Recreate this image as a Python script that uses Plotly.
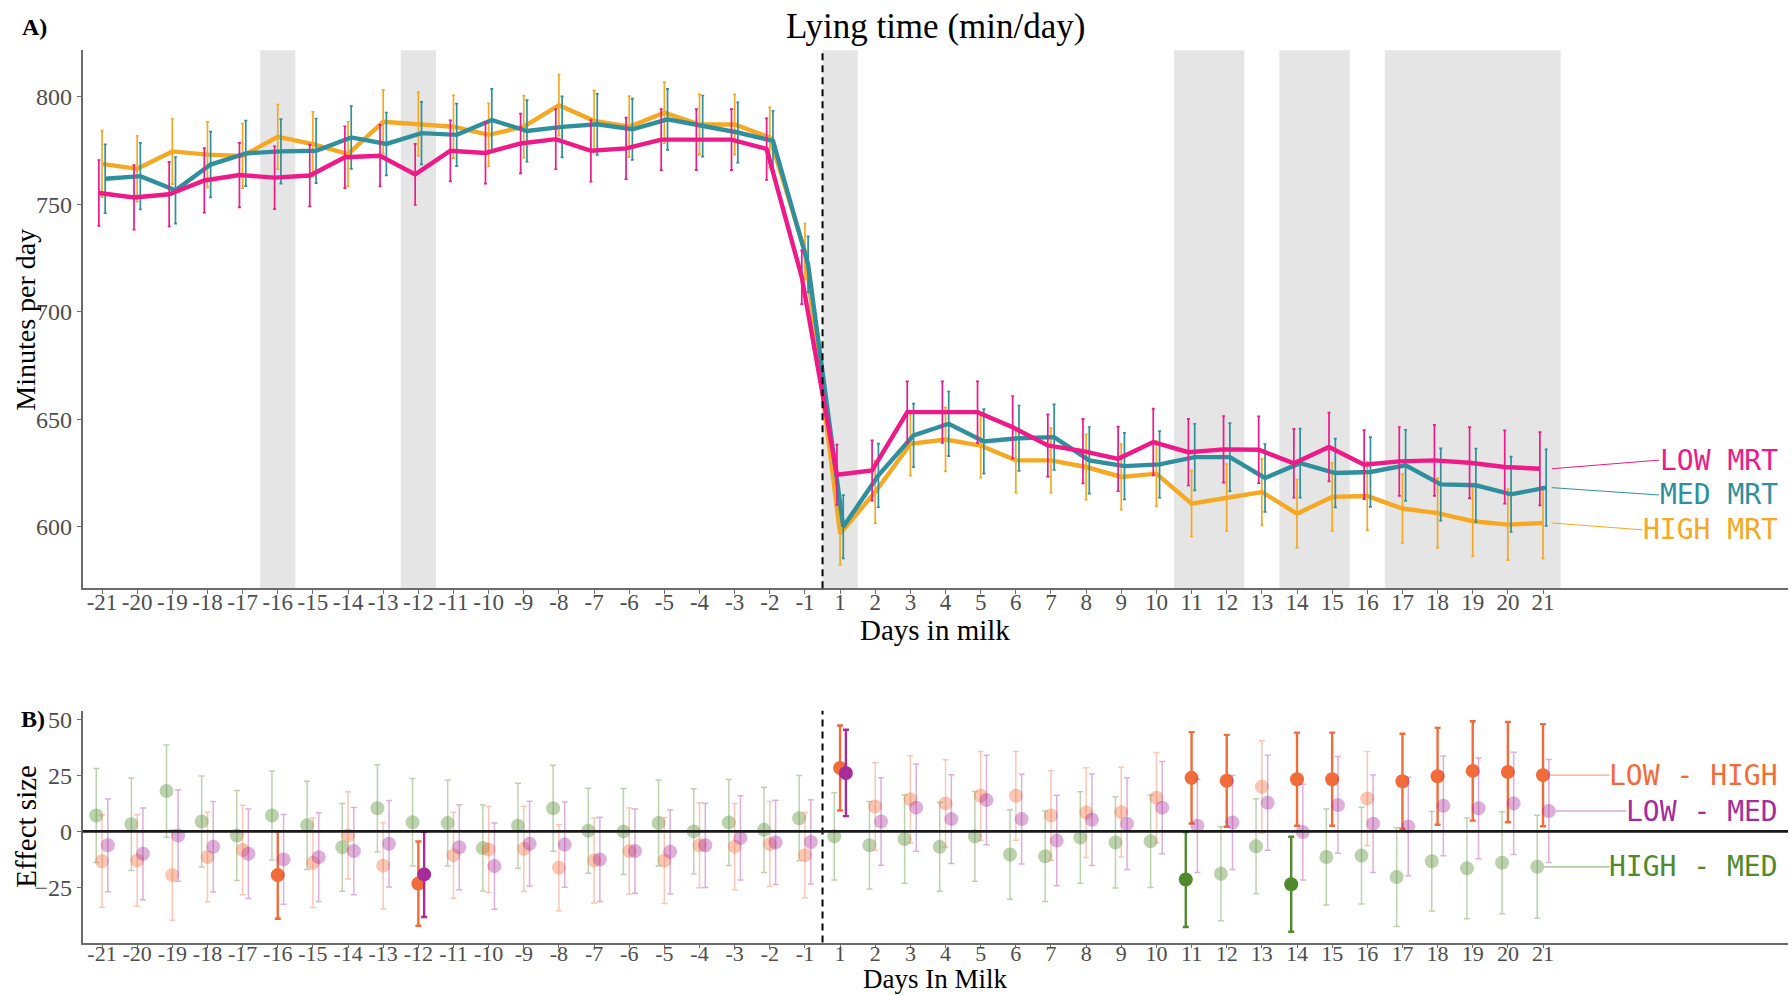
import plotly.graph_objects as go

# ---------------- data ----------------
days = list(range(-21, 0)) + list(range(1, 22))
day_labels = [str(d) for d in days]

low_mrt = [755.2, 753.1, 754.6, 761.0, 763.5, 762.3, 763.3, 771.8, 772.5, 763.8, 774.8,
           773.8, 778.2, 780.2, 774.8, 775.9, 780.0, 780.0, 780.0, 775.6, 716.0,
           624.2, 626.2, 653.3, 653.3, 653.3, 646.3, 637.8, 635.2, 631.6, 639.4, 634.7,
           636.0, 635.8, 629.5, 637.1, 628.9, 630.4, 630.9, 629.8, 627.8, 627.0]
low_err = [15.3, 15.0, 15.0, 15.0, 15.0, 14.6, 14.4, 14.4, 14.3, 14.2, 14.2, 14.3, 13.9, 14.0,
           14.3, 14.3, 14.2, 14.2, 14.2, 14.3, 12.5,
           14.0, 14.0, 14.3, 14.3, 14.3, 14.5, 14.5, 15.0, 15.0, 15.5, 15.5, 15.5, 15.5, 16.0,
           16.0, 16.0, 16.0, 16.5, 16.5, 17.0, 17.0]

med_mrt = [761.8, 763.0, 756.4, 768.4, 773.6, 774.5, 774.8, 781.0, 778.0, 783.0, 782.2,
           789.1, 784.0, 785.9, 787.1, 784.8, 789.4, 786.3, 783.3, 779.4, 722.0,
           600.0, 623.9, 642.5, 647.9, 639.7, 641.2, 641.7, 630.9, 628.2, 629.0, 632.4,
           632.4, 622.7, 629.6, 625.0, 625.5, 628.6, 619.7, 619.3, 615.1, 618.2]
med_err = [16.0, 15.5, 15.5, 15.3, 15.2, 15.0, 15.0, 14.6, 14.6, 14.5, 14.5, 14.5, 14.3, 14.2,
           14.2, 14.2, 14.2, 14.2, 14.0, 14.0, 13.0,
           14.7, 14.8, 14.8, 15.0, 15.0, 15.2, 15.2, 15.5, 15.5, 15.5, 15.5, 15.8, 15.8, 16.0,
           16.0, 16.2, 16.5, 16.8, 17.0, 17.5, 17.8]

high_mrt = [768.7, 766.4, 774.5, 773.0, 772.4, 781.3, 777.9, 773.3, 788.3, 787.3, 786.0,
            782.2, 786.0, 796.0, 788.7, 786.0, 792.5, 787.0, 787.0, 781.0, 728.0,
            596.9, 616.2, 638.6, 640.6, 637.8, 630.9, 630.9, 627.8, 623.2, 624.7, 610.8,
            613.6, 616.2, 606.1, 613.9, 614.3, 608.5, 606.4, 602.6, 601.0, 601.8]
high_err = [15.5, 15.3, 15.2, 15.2, 15.0, 15.0, 15.0, 15.0, 14.8, 14.8, 14.6, 14.6, 14.4, 14.2,
            14.2, 14.2, 14.2, 14.0, 14.0, 14.0, 13.0,
            14.5, 14.5, 14.8, 14.8, 15.0, 15.0, 15.0, 15.2, 15.2, 15.2, 15.3, 15.5, 15.5, 15.8,
            15.8, 16.0, 16.0, 16.2, 16.3, 16.5, 16.6]

shaded_days = [-16, -12, 1, 11, 12, 14, 15, 17, 18, 19, 20, 21]

# effect sizes (panel B)
low_high = [-13.3, -13.0, -19.5, -11.4, -8.3, -19.5, -14.0, -1.8, -15.3, -23.3, -10.6,
            -8.1, -7.8, -16.2, -13.0, -8.8, -13.0, -6.2, -6.8, -5.6, -10.6,
            28.3, 11.1, 14.3, 12.5, 15.9, 15.9, 7.1, 8.4, 8.6, 15.0, 23.9,
            22.6, 19.9, 23.3, 23.3, 14.7, 22.4, 24.6, 27.0, 26.5, 25.1]
low_high_ci = [20.6, 20.4, 20.2, 20.0, 20.0, 19.5, 20.0, 19.5, 19.2, 18.8, 19.2,
               19.2, 19.0, 19.2, 19.0, 19.2, 19.2, 19.0, 19.2, 19.0, 19.0,
               19.0, 19.5, 19.5, 19.5, 19.8, 19.8, 20.0, 20.0, 20.0, 20.2, 20.4,
               20.5, 20.6, 20.8, 20.8, 21.0, 21.2, 21.6, 22.2, 22.4, 22.8]
low_high_sig = [False, False, False, False, False, True, False, False, False, True, False,
                False, False, False, False, False, False, False, False, False, False,
                True, False, False, False, False, False, False, False, False, False, True,
                True, False, True, True, False, True, True, True, True, True]

low_med = [-6.2, -10.0, -1.8, -6.9, -10.0, -12.5, -11.5, -8.8, -5.5, -19.2, -7.1,
           -15.5, -5.5, -5.9, -12.5, -8.8, -9.1, -6.2, -2.9, -4.9, -4.7,
           26.1, 4.4, 10.6, 5.5, 14.0, 5.5, -4.1, 5.2, 3.4, 10.6, 2.5,
           4.0, 12.8, -0.3, 11.8, 3.4, 2.2, 11.4, 10.3, 12.5, 9.1]
low_med_ci = [20.7, 20.5, 20.4, 20.2, 20.0, 20.0, 19.8, 19.5, 19.3, 19.0, 19.0,
              19.2, 19.0, 19.0, 18.8, 18.8, 18.8, 18.8, 18.8, 18.8, 18.8,
              19.3, 19.5, 19.5, 19.8, 20.0, 20.0, 20.2, 20.4, 20.4, 20.6, 20.8,
              21.0, 21.2, 21.4, 21.6, 21.8, 22.0, 22.3, 22.5, 22.8, 23.0]
low_med_sig = [False] * 9 + [True] + [False] * 11 + [True] + [False] * 20

high_med = [7.1, 3.2, 18.0, 4.4, -1.8, 7.1, 2.7, -7.1, 10.3, 4.1, 3.7,
            -7.4, 2.5, 10.3, 0.3, 0.0, 3.7, 0.0, 4.0, 0.7, 5.9,
            -2.2, -6.2, -3.4, -6.9, -2.2, -10.3, -11.1, -2.7, -4.9, -4.4, -21.5,
            -18.9, -6.6, -23.6, -11.4, -10.8, -20.4, -13.3, -16.5, -14.0, -15.8]
high_med_ci = [21.0, 20.6, 20.6, 20.3, 20.1, 19.9, 19.7, 19.6, 19.5, 19.5, 19.2,
               19.2, 19.0, 19.2, 19.0, 19.2, 19.2, 19.0, 19.2, 19.0, 19.0,
               19.5, 19.5, 19.8, 19.8, 20.0, 20.0, 20.2, 20.4, 20.4, 20.6, 21.2,
               21.0, 21.2, 21.2, 21.4, 21.6, 22.0, 22.2, 22.5, 22.8, 23.0]
high_med_sig = [False] * 31 + [True, False, False, True] + [False] * 7

# ---------------- layout geometry / styles ----------------
W, H = 1792, 996
PX_L, PX_R = 82.7, 1788
TOP_T, TOP_B = 46.5, 586.7
BOT_T, BOT_B = 709.5, 942.3
X_RANGE = [-0.55, 47.97]
STEP = (PX_R - PX_L) / (X_RANGE[1] - X_RANGE[0])


def px_to_idx(px):
    return X_RANGE[0] + (px - PX_L) / STEP


SERIF = "Liberation Serif"
MONO = "DejaVu Sans Mono"
MONO_SIZE = 28
CHAR_W = 0.602 * MONO_SIZE
LABEL_RIGHT_PX = 1780

C_LOW, C_MED, C_HIGH = "#EE1A87", "#2F8F9D", "#F7A823"
C_LH, C_LM, C_HM = (242, 108, 58), (166, 44, 156), (80, 138, 44)


def rgba(c, a):
    return f"rgba({c[0]},{c[1]},{c[2]},{a})"


idx = list(range(len(days)))
split = days.index(-1) + 0.5

fig = go.Figure()

# ---------- panel A ----------
top_series = [
    ("HIGH MRT", high_mrt, high_err, C_HIGH, 0.0, -3.2),
    ("MED MRT", med_mrt, med_err, C_MED, 0.09, -3.4),
    ("LOW MRT", low_mrt, low_err, C_LOW, -0.09, 4.0),
]
for name, vals, err, col, off, _ in top_series:
    fig.add_trace(go.Scatter(
        x=[i + off for i in idx], y=vals, mode="lines", name=name,
        line=dict(color=col, width=4.4),
        error_y=dict(type="data", array=err, color=col, thickness=1.7, width=1.5),
        xaxis="x", yaxis="y", hoverinfo="skip", showlegend=False))

for name, vals, err, col, off, dy in top_series:
    ly = vals[-1] + dy
    x_end = px_to_idx(LABEL_RIGHT_PX - len(name) * CHAR_W - 3)
    fig.add_trace(go.Scatter(
        x=[idx[-1] + 0.25, x_end], y=[vals[-1], ly], mode="lines",
        line=dict(color=col, width=1), xaxis="x", yaxis="y",
        hoverinfo="skip", showlegend=False))
    fig.add_annotation(x=LABEL_RIGHT_PX / W, xref="paper", y=ly, yref="y",
                       text=name, showarrow=False, xanchor="right", yanchor="middle",
                       font=dict(family=MONO, size=MONO_SIZE, color=col))

# ---------- panel B ----------
bot_series = [
    ("HIGH - MED", high_med, high_med_ci, high_med_sig, C_HM, -0.165),
    ("LOW - HIGH", low_high, low_high_ci, low_high_sig, C_LH, 0.0),
    ("LOW - MED", low_med, low_med_ci, low_med_sig, C_LM, 0.165),
]
for name, vals, ci, sig, col, off in bot_series:
    for flag in (False, True):
        xs = [i + off for i in idx if sig[i] == flag]
        ys = [vals[i] for i in idx if sig[i] == flag]
        es = [ci[i] for i in idx if sig[i] == flag]
        a = 1.0 if flag else 0.38
        fig.add_trace(go.Scatter(
            x=xs, y=ys, mode="markers",
            marker=dict(color=rgba(col, a), size=14, line=dict(width=0)),
            error_y=dict(type="data", array=es, color=rgba(col, a),
                         thickness=2.4 if flag else 1.5, width=3),
            xaxis="x2", yaxis="y2", hoverinfo="skip", showlegend=False))

for name, vals, ci, sig, col, off in bot_series:
    x_end = px_to_idx(LABEL_RIGHT_PX - len(name) * CHAR_W - 2)
    fig.add_trace(go.Scatter(
        x=[idx[-1] + off + 0.2, x_end], y=[vals[-1], vals[-1]], mode="lines",
        line=dict(color=rgba(col, 0.6), width=1.2), xaxis="x2", yaxis="y2",
        hoverinfo="skip", showlegend=False))
    fig.add_annotation(x=LABEL_RIGHT_PX / W, xref="paper", y=vals[-1], yref="y2",
                       text=name, showarrow=False, xanchor="right", yanchor="middle",
                       font=dict(family=MONO, size=MONO_SIZE, color=rgba(col, 1.0)))

# ---------- shapes ----------
shapes = []
runs = []
for d in shaded_days:
    i = days.index(d)
    if runs and runs[-1][1] == i - 1:
        runs[-1][1] = i
    else:
        runs.append([i, i])
for a, b in runs:
    shapes.append(dict(type="rect", xref="x", yref="y domain", x0=a - 0.5, x1=b + 0.5,
                       y0=0, y1=1, fillcolor="#E5E5E5", line=dict(width=0), layer="below"))
for xr, yr in (("x", "y domain"), ("x2", "y2 domain")):
    shapes.append(dict(type="line", xref=xr, yref=yr, x0=split, x1=split, y0=0, y1=1,
                       line=dict(color="black", width=2, dash="7px,5px")))
shapes.append(dict(type="line", xref="x2 domain", yref="y2", x0=0, x1=1, y0=0, y1=0,
                   line=dict(color="#1a1a1a", width=2.6)))

axis_common = dict(showline=True, linecolor="#6b6b6b", linewidth=1.6, ticks="outside",
                   ticklen=4, tickcolor="#6b6b6b", showgrid=False, zeroline=False,
                   tickfont=dict(family=SERIF, size=24, color="#4d4d4d"))
xtick_font = dict(family=SERIF, size=23, color="#4d4d4d")
xtick_font_b = dict(family=SERIF, size=22, color="#4d4d4d")

fig.update_layout(
    width=W, height=H, margin=dict(l=0, r=0, t=0, b=0),
    paper_bgcolor="white", plot_bgcolor="white",
    font=dict(family=SERIF, color="black"),
    showlegend=False,
    shapes=shapes,
    xaxis=dict(domain=[PX_L / W, PX_R / W], range=X_RANGE, tickmode="array",
               tickvals=idx, ticktext=day_labels, anchor="y", ticklabelstandoff=-12,
               **{**axis_common, "tickfont": xtick_font}),
    yaxis=dict(domain=[1 - TOP_B / H, 1 - TOP_T / H], range=[571.4, 821.5],
               tickvals=[600, 650, 700, 750, 800], anchor="x", **axis_common),
    xaxis2=dict(domain=[PX_L / W, PX_R / W], range=X_RANGE, tickmode="array",
                tickvals=idx, ticktext=day_labels, anchor="y2", ticklabelstandoff=-14,
                **{**axis_common, "tickfont": xtick_font_b}),
    yaxis2=dict(domain=[1 - BOT_B / H, 1 - BOT_T / H], range=[-49.6, 53.9],
                tickvals=[-25, 0, 25, 50], anchor="x2", **axis_common),
)

# titles & panel tags
texts = [
    ("Lying time (min/day)", 935, 23, 35, 0, False),
    ("Days in milk", 935, 629, 29, 0, False),
    ("Days In Milk", 935, 979, 27, 0, False),
    ("Minutes per day", 26, 317, 28, -90, False),
    ("Effect size", 26, 826, 29, -90, False),
    ("A)", 34, 23, 24, 0, True),
    ("B)", 33, 718, 24, 0, True),
]
for t, xp, yp, fs, ang, bold in texts:
    fig.add_annotation(x=xp / W, y=1 - yp / H, xref="paper", yref="paper",
                       text=f"<b>{t}</b>" if bold else t, showarrow=False,
                       xanchor="center", yanchor="middle", textangle=ang,
                       font=dict(family=SERIF, size=fs, color="black"))

fig.write_html("out.html")
